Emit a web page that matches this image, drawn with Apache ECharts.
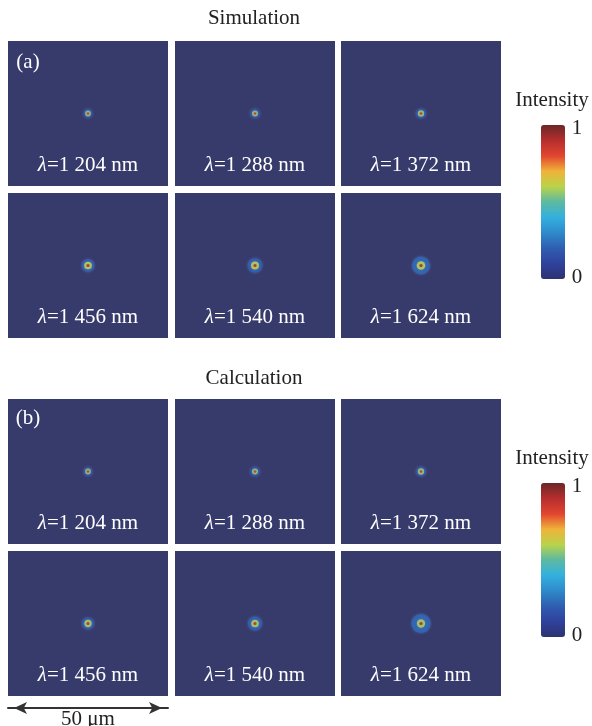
<!DOCTYPE html>
<html>
<head>
<meta charset="utf-8">
<script src="https://cdn.jsdelivr.net/npm/echarts@6/dist/echarts.min.js"></script>
<style>
  html, body { margin: 0; padding: 0; background: #fff; }
  #main { width: 592px; height: 726px; }
</style>
</head>
<body>
<div id="main"></div>
<script>
// 波长 (nm)
var wavelengths = [1204, 1288, 1372, 1456, 1540, 1624];
// 每个光斑: [半径 μm, 强度]，从外到内
var simRings = [
  [[1.4, 0.14], [0.9, 0.55], [0.4, 0.85]],
  [[1.5, 0.14], [0.95, 0.55], [0.4, 0.85]],
  [[1.6, 0.15], [1.0, 0.56], [0.42, 0.86]],
  [[2.0, 0.2], [1.2, 0.6], [0.5, 0.9]],
  [[2.3, 0.2], [1.25, 0.6], [0.5, 0.9]],
  [[2.8, 0.22], [1.35, 0.6], [0.5, 0.92]]
];
var calcRings = [
  [[1.4, 0.14], [0.9, 0.55], [0.4, 0.85]],
  [[1.5, 0.14], [0.95, 0.55], [0.4, 0.85]],
  [[1.6, 0.15], [1.0, 0.56], [0.42, 0.86]],
  [[1.9, 0.18], [1.15, 0.58], [0.48, 0.88]],
  [[2.2, 0.2], [1.2, 0.58], [0.48, 0.88]],
  [[3.0, 0.22], [1.3, 0.58], [0.5, 0.9]]
];
var intensityRange = [0, 1];
var fieldWidth = 50; // μm

var font = '"Liberation Serif", "Times New Roman", serif';
var jet = ['#2D3370', '#2F419C', '#2F5EB0', '#2E8ACA', '#33B0DE', '#5DB9A2',
  '#B9D34A', '#F0B23A', '#E2452F', '#B52E2E', '#6B2727'];

var myChart = echarts.init(document.getElementById('main'));

var cols = [8, 175, 341];
var rows = [41, 193, 399, 551];
var tileW = 160, tileH = 145;
var pxPerUm = tileW / fieldWidth;
var halfH = tileH / pxPerUm / 2;

var grids = [], xAxes = [], yAxes = [], series = [], graphics = [];

for (var p = 0; p < 2; p++) {
  var rings = p === 0 ? simRings : calcRings;
  for (var k = 0; k < 6; k++) {
    var r = p * 2 + Math.floor(k / 3), c = k % 3;
    var idx = p * 6 + k;
    grids.push({
      left: cols[c], top: rows[r], width: tileW, height: tileH,
      show: true, backgroundColor: '#373B6B', borderWidth: 0,
      outerBoundsMode: 'none', containLabel: false
    });
    var isScale = (p === 1 && k === 3);
    xAxes.push({
      gridIndex: idx, type: 'value', min: -fieldWidth / 2, max: fieldWidth / 2,
      show: isScale, position: 'bottom', offset: 12,
      axisLine: { show: isScale, onZero: false, symbol: ['arrow', 'arrow'], symbolSize: [9, 13],
        symbolOffset: [6, -6], lineStyle: { color: '#333', width: 2 } },
      axisTick: { show: false }, axisLabel: { show: false }, splitLine: { show: false },
      name: isScale ? fieldWidth + ' μm' : '', nameLocation: 'middle', nameGap: 11,
      nameTextStyle: { fontFamily: font, fontSize: 21, color: '#222', verticalAlign: 'middle' }
    });
    yAxes.push({
      gridIndex: idx, type: 'value', min: -halfH, max: halfH, show: false,
      splitLine: { show: false }
    });
    series.push({
      type: 'scatter', xAxisIndex: idx, yAxisIndex: idx,
      symbolSize: function (val) { return val[3] * 2 * pxPerUm; },
      itemStyle: { opacity: 0.9, shadowBlur: 3, shadowColor: 'rgba(120,140,220,0.5)' },
      silent: true,
      data: rings[k].map(function (ring) { return [0, 0, ring[1], ring[0]]; })
    });
    graphics.push({
      type: 'text', x: cols[c] + tileW / 2, y: rows[r] + 124,
      style: {
        text: '{i|λ}=1 ' + String(wavelengths[k]).slice(1) + ' nm',
        fill: '#fff', font: '21px ' + font, align: 'center', verticalAlign: 'middle',
        rich: { i: { fontStyle: 'italic', fontFamily: font, fontSize: 21, fill: '#fff' } }
      }
    });
  }
}

var titles = [['Simulation', 18], ['Calculation', 378]];
titles.forEach(function (t) {
  graphics.push({ type: 'text', x: 254, y: t[1],
    style: { text: t[0], fill: '#222', font: '21px ' + font, align: 'center', verticalAlign: 'middle' } });
});
[['(a)', 62], ['(b)', 418]].forEach(function (t) {
  graphics.push({ type: 'text', x: 28, y: t[1],
    style: { text: t[0], fill: '#fff', font: '21px ' + font, align: 'center', verticalAlign: 'middle' } });
});

var barTops = [125, 483];
var visualMaps = [];
barTops.forEach(function (top, i) {
  visualMaps.push({
    type: 'continuous', min: intensityRange[0], max: intensityRange[1],
    dimension: 2, seriesIndex: [0, 1, 2, 3, 4, 5].map(function (s) { return s + i * 6; }),
    orient: 'vertical', left: 541, top: top, itemWidth: 24, itemHeight: 154,
    padding: 0, calculable: false, inRange: { color: jet }
  });
  graphics.push({ type: 'text', x: 552, y: top - 25,
    style: { text: 'Intensity', fill: '#222', font: '21px ' + font, align: 'center', verticalAlign: 'middle' } });
  graphics.push({ type: 'text', x: 577, y: top + 3,
    style: { text: String(intensityRange[1]), fill: '#222', font: '21px ' + font, align: 'center', verticalAlign: 'middle' } });
  graphics.push({ type: 'text', x: 577, y: top + 152,
    style: { text: String(intensityRange[0]), fill: '#222', font: '21px ' + font, align: 'center', verticalAlign: 'middle' } });
});

var option = {
  animation: false,
  grid: grids,
  xAxis: xAxes,
  yAxis: yAxes,
  visualMap: visualMaps,
  series: series,
  graphic: graphics
};
myChart.setOption(option);
</script>
</body>
</html>
